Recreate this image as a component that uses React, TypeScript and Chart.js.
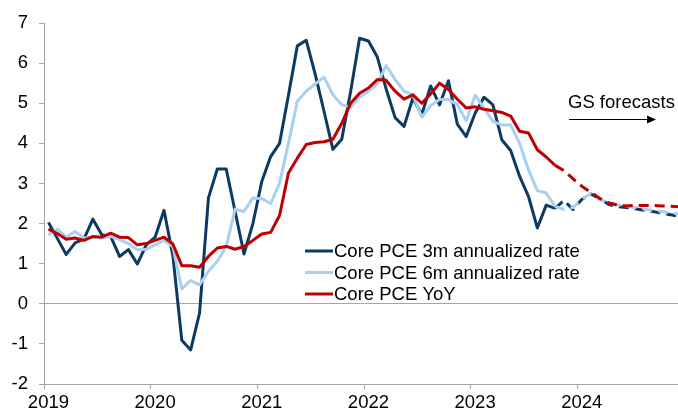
import React, { useEffect, useRef } from "react";
import { Chart, registerables } from "chart.js";

Chart.register(...registerables);

const YEARS: string[] = ["2019", "2020", "2021", "2022", "2023", "2024"];
const MONTH_NUMS: string[] = ["01", "02", "03", "04", "05", "06", "07", "08", "09", "10", "11", "12"];
const MONTHS: string[] = YEARS.flatMap((y) => MONTH_NUMS.map((m) => `${y}-${m}`));

// index of the last actual observation (Oct 2023); later points are GS forecasts
const FORECAST_START = 57;

const CORE_3M: number[] = [
  2.03, 1.63, 1.23, 1.52, 1.62, 2.11, 1.72, 1.68, 1.18, 1.35, 0.99, 1.47,
  1.66, 2.33, 1.2, -0.91, -1.15, -0.23, 2.64, 3.36, 3.36, 2.3, 1.24, 2.0,
  3.05, 3.67, 4.0, 5.2, 6.43, 6.57, 5.73, 4.8, 3.85, 4.1, 5.3, 6.62,
  6.55, 6.15, 5.35, 4.64, 4.42, 5.13, 4.72, 5.43, 4.96, 5.56, 4.48, 4.17,
  4.75, 5.15, 4.96, 4.09, 3.82, 3.18, 2.68, 1.89, 2.46, 2.38, 2.58, 2.35,
  2.6, 2.74, 2.62, 2.48, 2.42, 2.4, 2.37, 2.33, 2.3, 2.26, 2.22, 2.18,
];

const CORE_6M: number[] = [
  1.72, 1.86, 1.66, 1.8, 1.64, 1.66, 1.64, 1.68, 1.6, 1.5, 1.35, 1.36,
  1.47, 1.58, 1.43, 0.37, 0.58, 0.47, 0.81, 1.06, 1.43, 2.36, 2.3, 2.64,
  2.62, 2.5, 3.0, 4.0, 5.05, 5.3, 5.48, 5.65, 5.21, 4.96, 4.9, 5.15,
  5.3, 5.48, 5.94, 5.59, 5.3, 5.21, 4.65, 4.94, 5.09, 5.09, 4.97, 4.56,
  5.2, 4.88, 4.55, 4.46, 4.46, 4.0, 3.34, 2.82, 2.76, 2.43, 2.35, 2.4,
  2.6, 2.75, 2.6, 2.52, 2.47, 2.44, 2.4, 2.36, 2.33, 2.3, 2.27, 2.24,
];

const CORE_YOY: number[] = [
  1.86, 1.75, 1.61, 1.64, 1.58, 1.68, 1.66, 1.76, 1.66, 1.65, 1.47, 1.5,
  1.58, 1.66, 1.49, 0.95, 0.95, 0.91, 1.18, 1.39, 1.43, 1.36, 1.43, 1.58,
  1.74, 1.78, 2.2, 3.26, 3.63, 3.97, 4.02, 4.04, 4.1, 4.5, 5.0, 5.25,
  5.38, 5.59, 5.57, 5.3, 5.1, 5.21, 5.0, 5.23, 5.5, 5.34, 5.1, 4.88,
  4.91, 4.85, 4.81, 4.77, 4.68, 4.3, 4.26, 3.84, 3.66, 3.45, 3.32, 3.12,
  2.93, 2.78, 2.63, 2.52, 2.46, 2.44, 2.45, 2.45, 2.45, 2.44, 2.43, 2.42,
];

const SERIES_LABELS: string[] = [
  "Core PCE 3m annualized rate",
  "Core PCE 6m annualized rate",
  "Core PCE YoY",
];
const SERIES_COLORS: string[] = ["#0c3a63", "#a8d0f0", "#c00000"];
const ANNOTATION_TEXT = "GS forecasts";

const FONT_FAMILY = "'Liberation Sans', Arial, sans-serif";
const FONT_SIZE = 18.5;
const AXIS_GRAY = "#a6a6a6";

const overlayPlugin = {
  id: "overlay",
  afterDraw(chart: any) {
    const ctx = chart.ctx as CanvasRenderingContext2D;
    ctx.save();
    ctx.font = `${FONT_SIZE}px ${FONT_FAMILY}`;
    ctx.fillStyle = "#000";
    ctx.textBaseline = "middle";
    ctx.textAlign = "left";
    const legendX = 305;
    const legendY = 251;
    const rowH = 21.5;
    chart.data.datasets.forEach((ds: any, k: number) => {
      const y = legendY + k * rowH;
      ctx.strokeStyle = ds.borderColor;
      ctx.lineWidth = 3;
      ctx.beginPath();
      ctx.moveTo(legendX, y);
      ctx.lineTo(legendX + 28, y);
      ctx.stroke();
      ctx.fillText(ds.label, legendX + 29, y + 1);
    });
    // GS forecasts annotation
    ctx.textBaseline = "alphabetic";
    ctx.fillText(ANNOTATION_TEXT, 568, 108);
    ctx.strokeStyle = "#000";
    ctx.lineWidth = 1;
    ctx.beginPath();
    ctx.moveTo(569, 119.5);
    ctx.lineTo(649, 119.5);
    ctx.stroke();
    ctx.beginPath();
    ctx.moveTo(656, 119.5);
    ctx.lineTo(647, 115.5);
    ctx.lineTo(647, 123.5);
    ctx.closePath();
    ctx.fill();
    ctx.restore();
  },
};

export default function App() {
  const canvasRef = useRef<HTMLCanvasElement | null>(null);

  useEffect(() => {
    if (!canvasRef.current) return;
    Chart.defaults.font.family = FONT_FAMILY;
    Chart.defaults.font.size = FONT_SIZE;
    Chart.defaults.color = "#000";

    const seriesData = [CORE_3M, CORE_6M, CORE_YOY];
    const datasets = seriesData.map((values, k) => ({
      label: SERIES_LABELS[k],
      data: values,
      borderColor: SERIES_COLORS[k],
      backgroundColor: SERIES_COLORS[k],
      borderWidth: 3,
      pointRadius: 0,
      pointHoverRadius: 0,
      tension: 0,
      fill: false,
      borderJoinStyle: "round" as const,
      order: 3 - k,
      segment: {
        borderDash: (ctx: any) => (ctx.p0DataIndex >= FORECAST_START ? [10, 6] : undefined),
      },
    }));

    const chart = new Chart(canvasRef.current, {
      type: "line",
      data: { labels: MONTHS, datasets },
      options: {
        animation: false,
        responsive: false,
        devicePixelRatio: 1,
        layout: { padding: { top: 23, left: 0, right: 0, bottom: 0 } },
        plugins: {
          legend: { display: false },
          tooltip: { enabled: false },
          title: { display: false },
        },
        scales: {
          x: {
            type: "category",
            offset: true,
            grid: {
              offset: true,
              drawOnChartArea: false,
              drawTicks: true,
              tickLength: 5,
              tickColor: (ctx: any) =>
                typeof ctx.index === "number" && ctx.index % 12 === 0 ? AXIS_GRAY : "rgba(0,0,0,0)",
            },
            border: { color: AXIS_GRAY, width: 1 },
            ticks: {
              autoSkip: false,
              maxRotation: 0,
              minRotation: 0,
              padding: 3,
              color: "#000",
              callback: (_v: any, index: number) => (index % 12 === 0 ? MONTHS[index].slice(0, 4) : ""),
            },
            afterFit: (scale: any) => {
              scale.height = 33;
              scale.paddingLeft = 0;
              scale.paddingRight = 0;
            },
          },
          y: {
            min: -2,
            max: 7,
            grid: {
              drawTicks: true,
              tickLength: 5,
              color: (ctx: any) => (ctx.tick && ctx.tick.value === 0 ? AXIS_GRAY : "rgba(0,0,0,0)"),
              tickColor: AXIS_GRAY,
            },
            border: { color: AXIS_GRAY, width: 1 },
            ticks: { stepSize: 1, padding: 11, color: "#000" },
            afterFit: (scale: any) => {
              scale.width = 44;
              scale.paddingTop = 0;
              scale.paddingBottom = 0;
            },
          },
        },
      },
      plugins: [overlayPlugin],
    });

    return () => chart.destroy();
  }, []);

  return (
    <div
      style={{
        position: "absolute",
        left: 0,
        top: 0,
        width: 678,
        height: 417,
        overflow: "hidden",
        background: "#fff",
      }}
    >
      <canvas ref={canvasRef} width={684} height={417} style={{ display: "block" }} />
    </div>
  );
}
